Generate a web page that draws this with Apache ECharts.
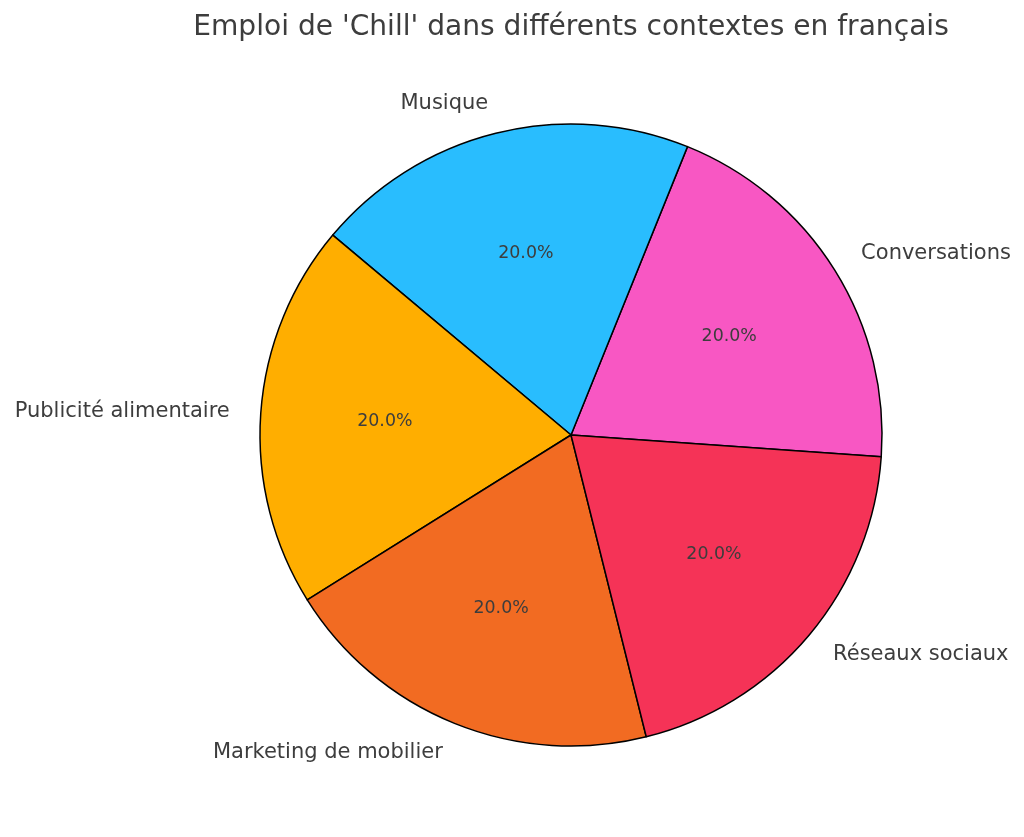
<!DOCTYPE html>
<html>
<head>
<meta charset="utf-8">
<script src="https://cdn.jsdelivr.net/npm/echarts@6/dist/echarts.min.js"></script>
<style>html,body{margin:0;padding:0;background:#fff;}#main{width:1024px;height:837px;}</style>
</head>
<body>
<div id="main"></div>
<script>
const titleText = "Emploi de 'Chill' dans différents contextes en français";
const categories = ['Conversations', 'Musique', 'Publicité alimentaire', 'Marketing de mobilier', 'Réseaux sociaux'];
const values = [20, 20, 20, 20, 20];
const colors = ['#F857C3', '#29BDFE', '#FFAE00', '#F26B22', '#F53357'];

const R = 311;
const data = categories.map((c, i) => ({ name: c, value: values[i], itemStyle: { color: colors[i] } }));
const chart = echarts.init(document.getElementById('main'));
chart.setOption({
  animation: false,
  backgroundColor: '#ffffff',
  title: {
    text: titleText,
    left: 566, top: 9, textAlign: 'center',
    textStyle: { fontFamily: 'DejaVu Sans', fontSize: 28.1, fontWeight: 'normal', color: '#3d3d3d' }
  },
  series: [
    {
      type: 'pie',
      center: [571, 435],
      radius: [0, R],
      startAngle: -4,
      clockwise: false,
      avoidLabelOverlap: false,
      silent: true,
      data: data,
      itemStyle: { borderColor: '#000000', borderWidth: 1.5 },
      label: {
        show: true, position: 'outside', distanceToLabelLine: 0,
        fontFamily: 'DejaVu Sans', fontSize: 21, color: '#3d3d3d',
        formatter: '{b}'
      },
      labelLine: { show: false, length: R * 0.1, length2: 0 },
      emphasis: { disabled: true }
    },
    {
      type: 'pie',
      center: [571, 435],
      radius: [R * 0.2 - 6, R],
      startAngle: -4,
      clockwise: false,
      avoidLabelOverlap: false,
      silent: true,
      data: categories.map((c, i) => ({ name: c, value: values[i] })),
      itemStyle: { color: 'rgba(0,0,0,0)', borderWidth: 0 },
      label: {
        show: true, position: 'inside',
        fontFamily: 'DejaVu Sans', fontSize: 17.4, color: '#3d3d3d',
        formatter: p => p.percent.toFixed(1) + '%'
      },
      labelLine: { show: false },
      emphasis: { disabled: true }
    }
  ]
});
</script>
</body>
</html>
